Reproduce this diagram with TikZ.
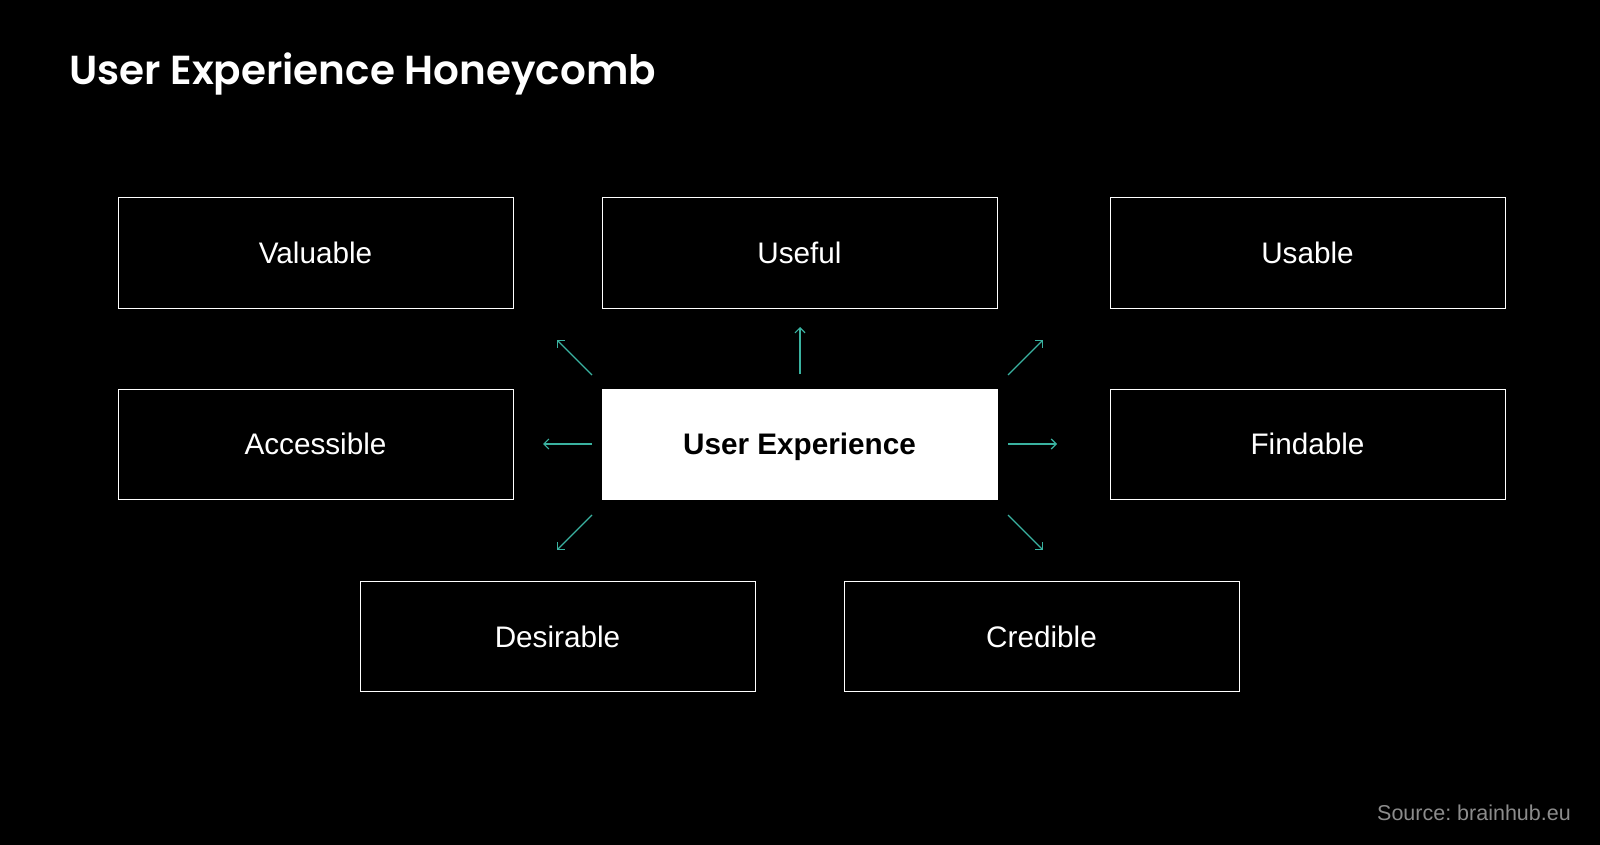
\documentclass[tikz,border=0pt]{standalone}
\usepackage{fontspec}
\setmainfont{Liberation Sans}
\newfontfamily\titlefont{Poppins SemiBold}
\usetikzlibrary{arrows.meta}
\definecolor{teal}{RGB}{58,178,160}
\definecolor{srcgray}{RGB}{140,140,140}
\tikzset{
  facet/.style={draw=white, line width=1pt, minimum width=395pt, minimum height=110pt,
    inner sep=0pt, text=white, font=\fontsize{29.7}{32}\selectfont,
    text height=21.2pt, text depth=0pt},
  core/.style={facet, fill=white, text=black, font=\fontsize{29.7}{32}\selectfont\bfseries},
  ray/.style={draw=teal, line width=1.2pt, -{Straight Barb[length=5pt,width=10pt]}}
}
\begin{document}
\frenchspacing
\begin{tikzpicture}[x=1pt,y=-1pt]
\fill[black] (0,0) rectangle (1600,845);
\useasboundingbox (0,0) rectangle (1600,845);

\node[anchor=base west, text=white, inner sep=0pt, font=\titlefont\fontsize{40.5}{44}\selectfont] (title) at (69,85) {User Experience Honeycomb};

\node[facet] (valuable) at (315.5,253) {Valuable};
\node[facet] (useful) at (799.5,253) {Useful};
\node[facet] (usable) at (1307.5,253) {Usable};
\node[facet] (accessible) at (315.5,444) {Accessible};
\node[core] (ux) at (799.5,444) {User Experience};
\node[facet] (findable) at (1307.5,444) {Findable};
\node[facet] (desirable) at (557.5,636.5) {Desirable};
\node[facet] (credible) at (1041.5,636.5) {Credible};

\coordinate (uS) at (800,374); \coordinate (uE) at (800,327);
\coordinate (lS) at (592,444); \coordinate (lE) at (543,444);
\coordinate (rS) at (1008,444); \coordinate (rE) at (1057,444);
\coordinate (ulS) at (592,375); \coordinate (ulE) at (557,340);
\coordinate (urS) at (1008,375); \coordinate (urE) at (1043,340);
\coordinate (dlS) at (592,515); \coordinate (dlE) at (557,550);
\coordinate (drS) at (1008,515); \coordinate (drE) at (1043,550);
\draw[ray] (uS) -- (uE);
\draw[ray] (lS) -- (lE);
\draw[ray] (rS) -- (rE);
\draw[ray] (ulS) -- (ulE);
\draw[ray] (urS) -- (urE);
\draw[ray] (dlS) -- (dlE);
\draw[ray] (drS) -- (drE);

\node[anchor=base east, text=srcgray, inner sep=0pt, font=\fontsize{21.5}{24}\selectfont] (source) at (1571,820) {Source: brainhub.eu};
\end{tikzpicture}
\end{document}
